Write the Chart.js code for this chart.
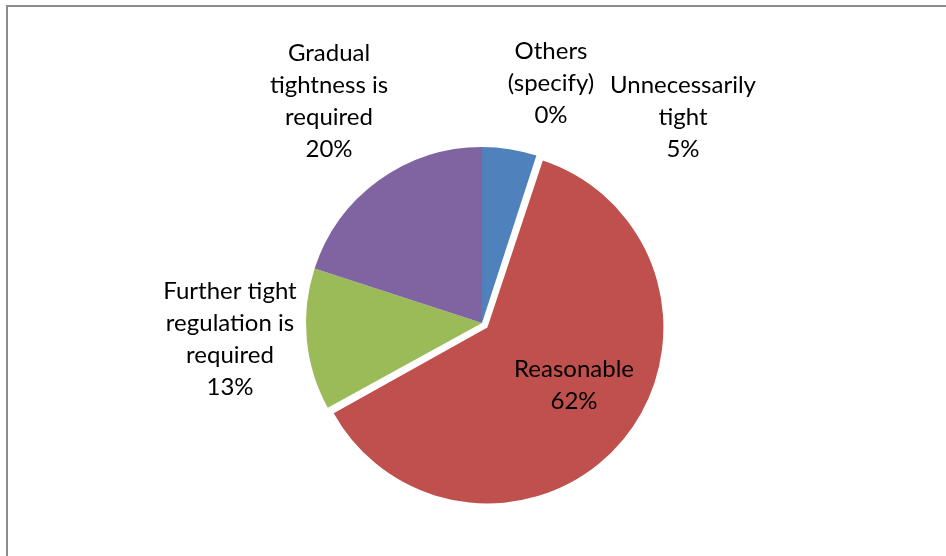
<!DOCTYPE html>
<html>
<head>
<meta charset="utf-8">
<script src="https://cdn.jsdelivr.net/npm/chart.js@4/dist/chart.umd.min.js"></script>
<style>
  html, body { margin: 0; padding: 0; background: #fff; }
  #wrap { position: relative; width: 946px; height: 556px; overflow: hidden; }
  #frame {
    position: absolute; left: 6px; top: 5px; width: 1000px; height: 600px;
    border-top: 2px solid #8c8c8c; border-left: 2px solid #8c8c8c;
  }
  #surveyPie { position: absolute; left: 0; top: 0; }
</style>
</head>
<body>
<div id="wrap">
  <div id="frame"></div>
  <canvas id="surveyPie" width="946" height="556"></canvas>
</div>
<script>
// Categories (one entry per wrapped line), in slice order clockwise from 12 o'clock
const categories = [
  ['Unnecessarily', 'tight'],
  ['Reasonable'],
  ['Further tight', 'regulation is', 'required'],
  ['Gradual', 'tightness is', 'required'],
  ['Others', '(specify)']
];
const shares = [5, 62, 13, 20, 0];
const sliceColors = ['#4f81bd', '#c0504d', '#9bbb59', '#8064a2', '#4bacc6'];
// Chart.js shifts an arc by a quarter of its offset, so 28 pulls "Reasonable" out ~7px
const sliceOffsets = [0, 28, 0, 0, 0];

// Where each label's first line sits, relative to the pie centre
const labelAnchors = [
  [201, -238],
  [92, 46],
  [-252, -32],
  [-153, -270],
  [69, -272]
];
const LINE_H = 32;

// The offset also grows the arc's radius; take it back so exploded slices keep their size
const keepRadius = {
  id: 'keepRadius',
  afterDatasetUpdate(chart, args) {
    chart.getDatasetMeta(args.index).data.forEach((arc, i) => {
      const off = (sliceOffsets[i] || 0) / 4;
      const fix = 1 - Math.sin(Math.min(Math.PI, arc.circumference || 0));
      arc.outerRadius -= off * fix;
    });
  }
};

const sliceLabels = {
  id: 'sliceLabels',
  afterDatasetsDraw(chart) {
    const ctx = chart.ctx;
    const meta = chart.getDatasetMeta(0);
    const cx = (chart.chartArea.left + chart.chartArea.right) / 2;
    const cy = (chart.chartArea.top + chart.chartArea.bottom) / 2;
    ctx.save();
    ctx.font = '24px Lato';
    ctx.fillStyle = '#000';
    ctx.textAlign = 'center';
    ctx.textBaseline = 'middle';
    meta.data.forEach((arc, i) => {
      const lines = categories[i].concat([shares[i] + '%']);
      const [dx, dy] = labelAnchors[i];
      lines.forEach((txt, k) => {
        ctx.fillText(txt, cx + dx, cy + dy + k * LINE_H);
      });
    });
    ctx.restore();
  }
};

new Chart(document.getElementById('surveyPie'), {
  type: 'pie',
  data: {
    labels: categories.map(c => c.join(' ')),
    datasets: [{
      data: shares,
      backgroundColor: sliceColors,
      borderWidth: 0,
      offset: sliceOffsets
    }]
  },
  options: {
    responsive: false,
    animation: false,
    radius: 176,
    layout: { padding: { left: 18, top: 90, right: 0, bottom: 0 } },
    plugins: { legend: { display: false }, tooltip: { enabled: false } }
  },
  plugins: [keepRadius, sliceLabels]
});
</script>
</body>
</html>
